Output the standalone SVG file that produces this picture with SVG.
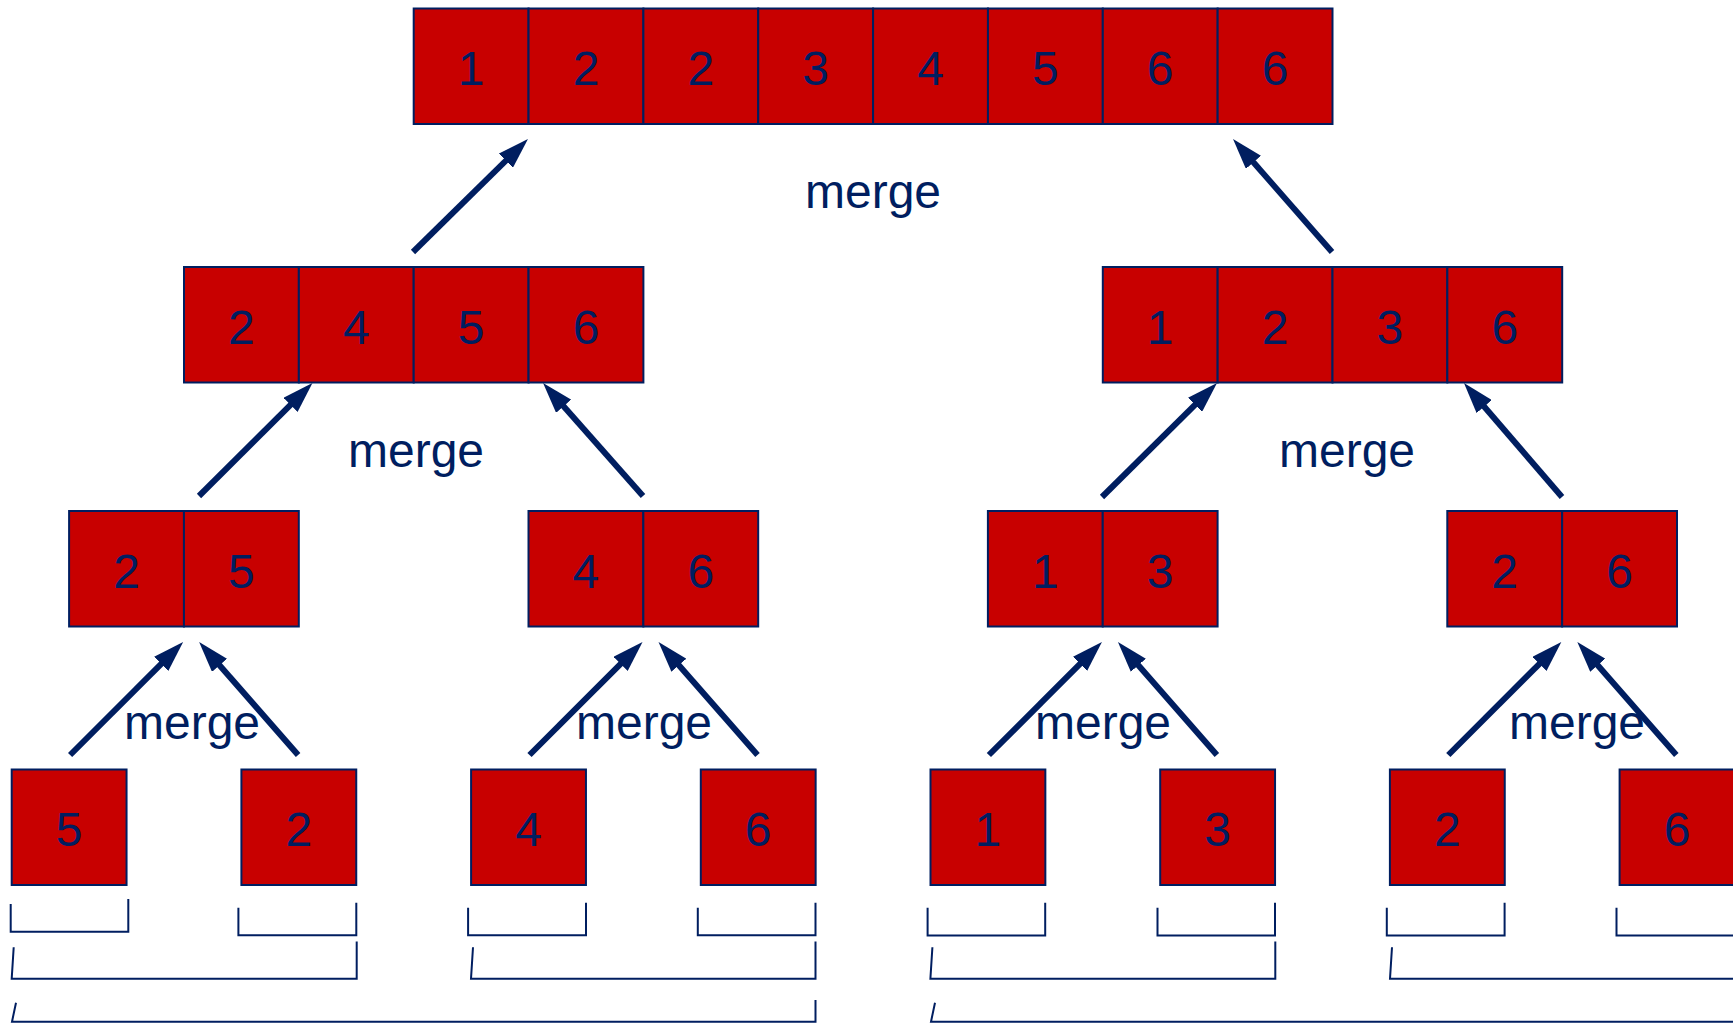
<svg xmlns="http://www.w3.org/2000/svg" width="1733" height="1023" viewBox="0 0 1733 1023">
<style>
.cell{fill:#c80000;stroke:#001e60;stroke-width:2}
.num{font-family:"Liberation Sans",Arial,sans-serif;font-size:48px;fill:#001e60;text-anchor:middle}
.lbl{font-family:"Liberation Sans",Arial,sans-serif;font-size:48px;fill:#001e60;text-anchor:middle}
.arr{stroke:#001e60;stroke-width:6;fill:none;marker-end:url(#ah)}
.br{stroke:#001e60;stroke-width:2;fill:none}
</style>
<defs>
<marker id="ah" markerUnits="userSpaceOnUse" viewBox="0 -10 31 20" markerWidth="31" markerHeight="20" refX="11" refY="0" orient="auto">
<path d="M0,-10 L31,0 L0,10 Z" fill="#001e60"/>
</marker>
</defs>

<!-- top array -->
<g id="top">
<rect class="cell" x="413.7" y="8.5" width="114.85" height="115.5"/>
<rect class="cell" x="528.55" y="8.5" width="114.85" height="115.5"/>
<rect class="cell" x="643.4" y="8.5" width="114.85" height="115.5"/>
<rect class="cell" x="758.25" y="8.5" width="114.85" height="115.5"/>
<rect class="cell" x="873.1" y="8.5" width="114.85" height="115.5"/>
<rect class="cell" x="987.95" y="8.5" width="114.85" height="115.5"/>
<rect class="cell" x="1102.8" y="8.5" width="114.85" height="115.5"/>
<rect class="cell" x="1217.65" y="8.5" width="114.85" height="115.5"/>
<text class="num" x="471.1" y="85">1</text>
<text class="num" x="586" y="85">2</text>
<text class="num" x="700.8" y="85">2</text>
<text class="num" x="815.7" y="85">3</text>
<text class="num" x="930.5" y="85">4</text>
<text class="num" x="1045.4" y="85">5</text>
<text class="num" x="1160.2" y="85">6</text>
<text class="num" x="1275.1" y="85">6</text>
</g>

<!-- middle arrays -->
<g id="mid-left">
<rect class="cell" x="184" y="267" width="114.85" height="115.5"/>
<rect class="cell" x="298.85" y="267" width="114.85" height="115.5"/>
<rect class="cell" x="413.7" y="267" width="114.85" height="115.5"/>
<rect class="cell" x="528.55" y="267" width="114.85" height="115.5"/>
<text class="num" x="241.4" y="343.5">2</text>
<text class="num" x="356.3" y="343.5">4</text>
<text class="num" x="471.1" y="343.5">5</text>
<text class="num" x="586" y="343.5">6</text>
</g>
<g id="mid-right">
<rect class="cell" x="1102.8" y="267" width="114.85" height="115.5"/>
<rect class="cell" x="1217.65" y="267" width="114.85" height="115.5"/>
<rect class="cell" x="1332.5" y="267" width="114.85" height="115.5"/>
<rect class="cell" x="1447.35" y="267" width="114.85" height="115.5"/>
<text class="num" x="1160.2" y="343.5">1</text>
<text class="num" x="1275.1" y="343.5">2</text>
<text class="num" x="1389.9" y="343.5">3</text>
<text class="num" x="1504.8" y="343.5">6</text>
</g>

<!-- pairs -->
<g id="pair-1">
<rect class="cell" x="69.1" y="511" width="114.85" height="115.5"/>
<rect class="cell" x="183.95" y="511" width="114.85" height="115.5"/>
<text class="num" x="126.5" y="587.5">2</text>
<text class="num" x="241.4" y="587.5">5</text>
</g>
<g id="pair-2">
<rect class="cell" x="528.5" y="511" width="114.85" height="115.5"/>
<rect class="cell" x="643.35" y="511" width="114.85" height="115.5"/>
<text class="num" x="585.9" y="587.5">4</text>
<text class="num" x="700.8" y="587.5">6</text>
</g>
<g id="pair-3">
<rect class="cell" x="987.9" y="511" width="114.85" height="115.5"/>
<rect class="cell" x="1102.75" y="511" width="114.85" height="115.5"/>
<text class="num" x="1045.3" y="587.5">1</text>
<text class="num" x="1160.2" y="587.5">3</text>
</g>
<g id="pair-4">
<rect class="cell" x="1447.3" y="511" width="114.85" height="115.5"/>
<rect class="cell" x="1562.15" y="511" width="114.85" height="115.5"/>
<text class="num" x="1504.7" y="587.5">2</text>
<text class="num" x="1619.6" y="587.5">6</text>
</g>

<!-- leaves -->
<g id="leaf-1"><rect class="cell" x="11.7" y="769.5" width="114.85" height="115.5"/><text class="num" x="69.1" y="846">5</text></g>
<g id="leaf-2"><rect class="cell" x="241.4" y="769.5" width="114.85" height="115.5"/><text class="num" x="298.8" y="846">2</text></g>
<g id="leaf-3"><rect class="cell" x="471.1" y="769.5" width="114.85" height="115.5"/><text class="num" x="528.5" y="846">4</text></g>
<g id="leaf-4"><rect class="cell" x="700.8" y="769.5" width="114.85" height="115.5"/><text class="num" x="758.2" y="846">6</text></g>
<g id="leaf-5"><rect class="cell" x="930.5" y="769.5" width="114.85" height="115.5"/><text class="num" x="987.9" y="846">1</text></g>
<g id="leaf-6"><rect class="cell" x="1160.2" y="769.5" width="114.85" height="115.5"/><text class="num" x="1217.6" y="846">3</text></g>
<g id="leaf-7"><rect class="cell" x="1389.9" y="769.5" width="114.85" height="115.5"/><text class="num" x="1447.3" y="846">2</text></g>
<g id="leaf-8"><rect class="cell" x="1619.6" y="769.5" width="114.85" height="115.5"/><text class="num" x="1677" y="846">6</text></g>

<!-- labels -->
<g id="labels">
<text class="lbl" x="873" y="208">merge</text>
<text class="lbl" x="416" y="467">merge</text>
<text class="lbl" x="1347" y="467">merge</text>
<text class="lbl" x="192" y="739">merge</text>
<text class="lbl" x="644" y="739">merge</text>
<text class="lbl" x="1103" y="739">merge</text>
<text class="lbl" x="1577" y="739">merge</text>
</g>

<!-- connectors -->
<g id="connectors">
<line class="arr" x1="413" y1="252" x2="513.7" y2="153"/>
<line class="arr" x1="1332" y1="252" x2="1246.2" y2="154"/>
<line class="arr" x1="199" y1="496" x2="298.3" y2="397.1"/>
<line class="arr" x1="643" y1="496" x2="556.3" y2="398"/>
<line class="arr" x1="1102" y1="497" x2="1202.8" y2="397.1"/>
<line class="arr" x1="1562" y1="497" x2="1477" y2="398.2"/>
<line class="arr" x1="70.1" y1="755" x2="169" y2="656.1"/>
<line class="arr" x1="298.1" y1="755" x2="212.3" y2="657"/>
<line class="arr" x1="529.5" y1="755" x2="628.4" y2="656.1"/>
<line class="arr" x1="757.5" y1="755" x2="671.7" y2="657"/>
<line class="arr" x1="988.9" y1="755" x2="1087.8" y2="656.1"/>
<line class="arr" x1="1216.9" y1="755" x2="1131.1" y2="657"/>
<line class="arr" x1="1448.3" y1="755" x2="1547.2" y2="656.1"/>
<line class="arr" x1="1676.3" y1="755" x2="1590.5" y2="657"/>
</g>

<!-- brackets -->
<g id="brackets">
<polyline class="br" points="10.7,904 10.7,931.7 128.3,931.7 128.3,899"/>
<polyline class="br" points="238.4,907.7 238.4,935.3 356.3,935.3 356.3,902.7"/>
<polyline class="br" points="468.1,907.7 468.1,935.3 586,935.3 586,902.7"/>
<polyline class="br" points="697.8,907.7 697.8,935.3 815.5,935.3 815.5,902.7"/>
<polyline class="br" points="927.6,907.7 927.6,935.5 1045.2,935.5 1045.2,902.7"/>
<polyline class="br" points="1157.5,907.7 1157.5,935.5 1275,935.5 1275,902.7"/>
<polyline class="br" points="1386.8,907.7 1386.8,935.6 1504.6,935.6 1504.6,902.7"/>
<polyline class="br" points="1616.5,907.7 1616.5,935.6 1740,935.6"/>
<polyline class="br" points="13.7,947.3 11.7,978.7 356.7,978.7 356.7,941.5"/>
<polyline class="br" points="473,947.3 471,978.7 815.5,978.7 815.5,941.5"/>
<polyline class="br" points="932.4,947.3 930.4,978.7 1275.3,978.7 1275.3,941.5"/>
<polyline class="br" points="1392,947.3 1390,978.7 1740,978.7"/>
<polyline class="br" points="16,1002.7 12,1021.7 815.5,1021.7 815.5,1000"/>
<polyline class="br" points="935,1002.7 931,1021.7 1740,1021.7"/>
</g>
</svg>
